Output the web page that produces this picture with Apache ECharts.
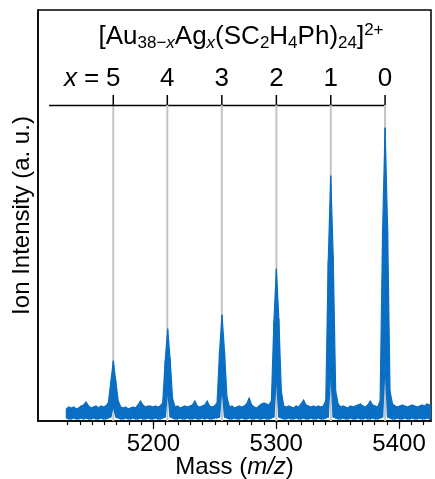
<!DOCTYPE html>
<html><head><meta charset="utf-8">
<script src="https://cdn.jsdelivr.net/npm/echarts@6/dist/echarts.min.js"></script>
<style>html,body{margin:0;padding:0;background:#fff}#c{width:435px;height:479px}</style>
</head><body><div id="c"></div>
<script>
// Spectrum sampled at a uniform spacing of 2.0118 m/z starting at 5129.08
const massStart = 5129.08;
const massStep = 2.0118;
// upper edge of the noisy trace (a.u.)
const upper = [
 12,14,13,14,12,13,15,16,19,15,
 13,14,15,13,15,14,15,18,39,60,
 40,20,14,13,14,12,13,14,13,16,
 20,16,14,15,15,14,15,14,15,18,
 60,92,62,22,14,15,13,14,15,14,
 15,16,20,15,14,15,16,20,15,14,
 15,18,69,106,70,24,14,15,13,14,
 15,14,15,17,23,16,14,13,15,17,
 18,17,16,20,99,152,102,30,15,14,
 15,14,13,15,14,17,21,16,15,14,
 15,14,15,14,15,20,160,245,165,30,
 17,14,15,14,13,15,14,15,16,17,
 15,14,16,20,16,15,14,20,190,293,
 195,30,17,15,14,15,16,15,14,15,
 16,15,14,15,16,15,17,16,15
];
// lower edge of the noisy trace (a.u.)
const lower = [
 3,2,2,3,2,2,3,2,3,2,
 2,3,2,2,3,2,2,3,4,15,
 4,3,2,2,3,2,2,3,2,2,
 3,2,2,3,2,2,3,2,2,3,
 4,30,4,3,2,2,3,2,2,3,
 2,2,3,2,2,3,2,3,2,2,
 3,3,4,34,4,3,2,2,3,2,
 2,3,2,2,3,2,2,3,2,2,
 3,2,2,3,4,44,4,3,2,2,
 3,2,2,3,2,2,3,2,2,3,
 2,2,3,2,2,3,4,49,4,3,
 2,2,3,2,2,3,2,2,3,2,
 2,3,2,2,3,2,2,3,4,56,
 4,3,2,2,3,2,2,3,2,2,
 3,2,2,3,2,2,3,2,2
];
const peakMass = [5167.3, 5211.3, 5255.7, 5300.1, 5344.4, 5388.6];
const peakLabels = ['5', '4', '3', '2', '1', '0'];
const majorTicks = [5200, 5300, 5400];
const minorTicks = [5130,5140,5150,5160,5170,5180,5190,5200,5210,5220,5230,5240,5250,5260,5270,5280,5290,5300,5310,5320,5330,5340,5350,5360,5370,5380,5390,5400,5410,5420];

const FONT = "'Liberation Sans', Arial, sans-serif";
const BLUE = '#0a6fc4';
const GRAY = '#c4c4c4';
const X_MIN = 5106, X_MAX = 5426;
const BRACKET_START = 5115, BRACKET_Y = 316, TICK_TOP = 326, LABEL_Y = 342;

const chart = echarts.init(document.getElementById('c'), null, {renderer: 'canvas'});
const massOf = i => massStart + massStep * i;

const option = {
  animation: false,
  textStyle: {fontFamily: FONT},
  grid: {left: 38, right: 4, top: 10, bottom: 58, show: true, borderColor: '#000', borderWidth: 1.5,
    containLabel: false, outerBoundsMode: 'none'},
  xAxis: [
    {
      type: 'value', min: X_MIN, max: X_MAX, position: 'bottom',
      axisLine: {show: true, lineStyle: {color: '#000', width: 1.5}},
      splitLine: {show: false},
      axisTick: {show: true, customValues: minorTicks, length: 4, lineStyle: {color: '#000', width: 1.2}},
      axisLabel: {show: false},
      name: 'Mass ({i|m/z})', nameLocation: 'middle', nameGap: 34,
      nameTextStyle: {fontSize: 24, color: '#000', fontFamily: FONT,
        rich: {i: {fontSize: 24, fontStyle: 'italic', color: '#000', fontFamily: FONT}}}
    },
    {
      type: 'value', min: X_MIN, max: X_MAX, position: 'bottom',
      axisLine: {show: false}, splitLine: {show: false},
      axisTick: {show: true, customValues: majorTicks, length: 8, lineStyle: {color: '#000', width: 1.2}},
      axisLabel: {show: true, customValues: majorTicks, fontSize: 24, color: '#000', margin: 11, fontFamily: FONT,
        formatter: v => String(v)}
    }
  ],
  yAxis: {
    type: 'value', min: 0, max: 411,
    axisLine: {show: true, lineStyle: {color: '#000', width: 1.5}},
    axisTick: {show: false}, axisLabel: {show: false}, splitLine: {show: false},
    name: 'Ion Intensity (a. u.)', nameLocation: 'middle', nameGap: 4,
    nameTextStyle: {fontSize: 24, color: '#000', fontFamily: FONT}
  },
  graphic: [{
    type: 'text', x: 241, y: 37, z: 10,
    style: {
      text: '[Au{s|38−}{si|x}Ag{si|x}(SC{s|2}H{s|4}Ph){s|24}]{p|2+}',
      fontSize: 26, fontFamily: FONT, fill: '#000', align: 'center', verticalAlign: 'middle',
      lineHeight: 30,
      rich: {
        s: {fontSize: 17, fontFamily: FONT, verticalAlign: 'bottom', lineHeight: 13},
        si: {fontSize: 17, fontFamily: FONT, fontStyle: 'italic', verticalAlign: 'bottom', lineHeight: 13},
        p: {fontSize: 17, fontFamily: FONT, verticalAlign: 'top', lineHeight: 23}
      }
    }
  }],
  series: [
    {
      type: 'custom', z: 1, silent: true, clip: false, xAxisIndex: 0,
      data: peakMass.map((m, i) => [m, i]),
      renderItem: (params, api) => {
        const i = params.dataIndex;
        const m = api.value(0);
        const b = api.coord([m, 0]);
        const a = api.coord([m, BRACKET_Y]);
        const t = api.coord([m, TICK_TOP]);
        const l = api.coord([m, LABEL_Y]);
        const children = [
          {type: 'line', shape: {x1: b[0], y1: b[1], x2: a[0], y2: a[1]}, style: {stroke: GRAY, lineWidth: 2}},
          {type: 'line', shape: {x1: a[0], y1: a[1], x2: t[0], y2: t[1]}, style: {stroke: '#000', lineWidth: 1.5}},
          {type: 'text', x: l[0], y: l[1], style: {text: peakLabels[i], fontSize: 26, fontFamily: FONT, fill: '#000', align: 'center', verticalAlign: 'middle'}}
        ];
        if (i === 0) {
          const s = api.coord([BRACKET_START, BRACKET_Y]);
          const e = api.coord([peakMass[peakMass.length - 1], BRACKET_Y]);
          const yy = Math.round(s[1]) + 0.5;
          children.push({type: 'line', shape: {x1: s[0], y1: yy, x2: e[0] + 0.75, y2: yy}, style: {stroke: '#000', lineWidth: 1.5}});
          children.push({type: 'text', x: l[0] - 14, y: l[1], style: {text: '{i|x} =', fontSize: 26, fontFamily: FONT, fill: '#000', align: 'right', verticalAlign: 'middle',
            rich: {i: {fontSize: 26, fontFamily: FONT, fontStyle: 'italic'}}}});
        }
        return {type: 'group', children};
      }
    },
    {
      type: 'custom', z: 2, silent: true, clip: true, xAxisIndex: 0,
      data: upper.map((u, i) => [massOf(i), lower[i], u]),
      encode: {x: 0, y: [1, 2]},
      renderItem: (params, api) => {
        const i = params.dataIndex;
        if (i >= upper.length - 1) return null;
        const m0 = massOf(i), m1 = massOf(i + 1);
        const pts = [api.coord([m0, lower[i]]), api.coord([m0, upper[i]]), api.coord([m1, upper[i + 1]]), api.coord([m1, lower[i + 1]])];
        return {type: 'polygon', shape: {points: pts}, style: {fill: BLUE, stroke: BLUE, lineWidth: 1.2, lineJoin: 'round'}};
      }
    }
  ]
};
chart.setOption(option);
</script>
</body></html>
